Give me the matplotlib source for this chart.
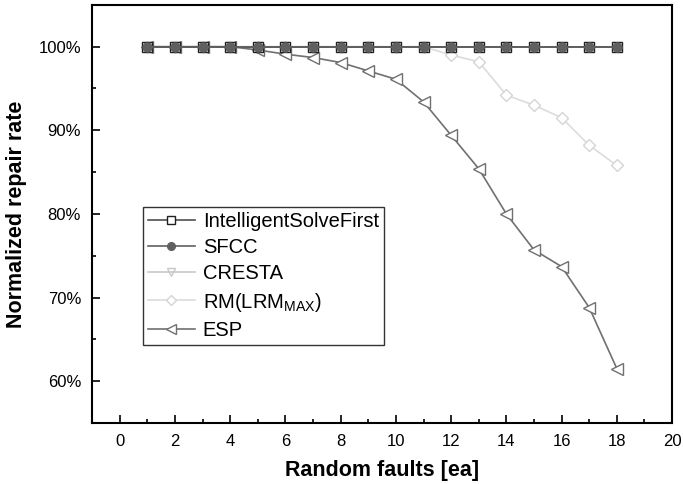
import matplotlib
matplotlib.use("Agg")
import matplotlib.pyplot as plt
from matplotlib.ticker import MultipleLocator, FuncFormatter

plt.rcParams["font.family"] = ["Liberation Sans", "DejaVu Sans"]
plt.rcParams["mathtext.default"] = "regular"

faults = list(range(1, 19))
isf = [100.0] * 18
sfcc = [100.0] * 18
cresta = [100.0] * 18
rm_lrm = [100, 100, 100, 100, 100, 100, 100, 100, 100, 100, 100,
          99.0, 98.2, 94.2, 93.0, 91.5, 88.2, 85.8]
esp = [100, 100, 100, 100, 99.6, 99.1, 98.7, 98.1, 97.1, 96.1, 93.4,
       89.4, 85.4, 80.0, 75.7, 73.7, 68.8, 61.5]

fig = plt.figure(figsize=(6.83, 4.84), dpi=100)
ax = fig.add_axes([0.135, 0.126, 0.849, 0.864])

# draw the light series first so the dark markers sit on top at 100%
h_rm, = ax.plot(faults, rm_lrm, color="#dcdcdc", lw=1.2, marker="D", ms=6.5,
                mfc="white", mec="#d4d4d4", label=r"RM(LRM$_{MAX}$)", zorder=2)
h_cr, = ax.plot(faults, cresta, color="#c8c8c8", lw=1.2, marker="v", ms=7.5,
                mfc="none", mec="#c8c8c8", label="CRESTA", zorder=3)
h_esp, = ax.plot(faults, esp, color="#707070", lw=1.2, marker="<", ms=8.5,
                 mfc="white", mec="#707070", label="ESP", zorder=4)
h_isf, = ax.plot(faults, isf, color="#505050", lw=1.2, marker="s", ms=6.5,
                 mfc="white", mec="#202020", label="IntelligentSolveFirst", zorder=5)
h_sf, = ax.plot(faults, sfcc, color="#606060", lw=1.2, marker="o", ms=6.5,
                mfc="#606060", mec="#606060", label="SFCC", zorder=6)

ax.set_xlim(-1, 20)
ax.set_ylim(55, 105)
ax.xaxis.set_major_locator(MultipleLocator(2))
ax.xaxis.set_minor_locator(MultipleLocator(1))
ax.yaxis.set_major_locator(MultipleLocator(10))
ax.yaxis.set_minor_locator(MultipleLocator(5))
ax.yaxis.set_major_formatter(FuncFormatter(lambda v, p: f"{v:.0f}%"))
ax.tick_params(which="both", direction="in", top=False, right=False)
ax.tick_params(which="major", length=6, width=1.2, labelsize=12, pad=8)
ax.tick_params(which="minor", length=3, width=1.2)
for s in ax.spines.values():
    s.set_linewidth(1.5)

ax.set_xlabel("Random faults [ea]", fontsize=15.5, fontweight="bold", labelpad=8)
ax.set_ylabel("Normalized repair rate", fontsize=15.5, fontweight="bold", labelpad=8)

leg = ax.legend(handles=[h_isf, h_sf, h_cr, h_rm, h_esp],
                loc="lower left", bbox_to_anchor=(0.088, 0.187), fontsize=14.5,
                frameon=True, fancybox=False, edgecolor="black",
                handlelength=2.3, handletextpad=0.4, labelspacing=0.36,
                borderpad=0.25, borderaxespad=0, markerscale=0.85)
leg.get_frame().set_linewidth(1.0)

fig.savefig("out.png", dpi=100)
